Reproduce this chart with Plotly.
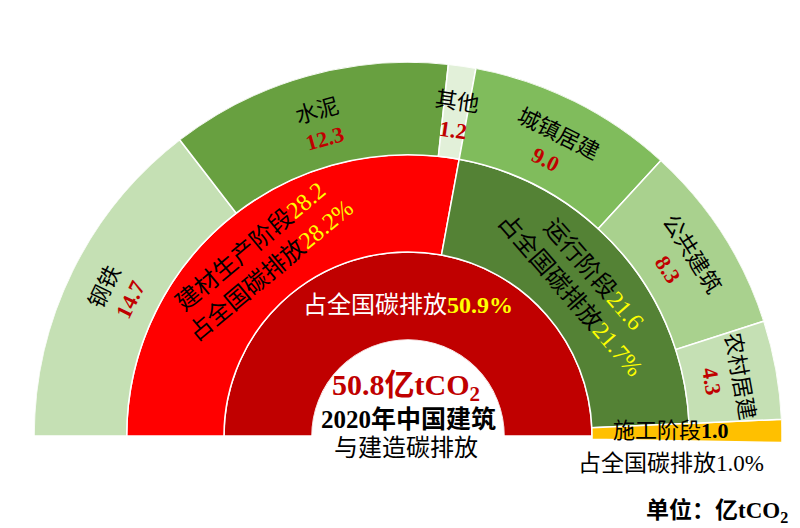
import math
import plotly.graph_objects as go

# ---------------- data ----------------
total_value = 50.8
total_share = "50.9%"
stage_names = ["建材生产阶段", "运行阶段", "施工阶段"]
stage_values = [28.2, 21.6, 1.0]
stage_shares = ["28.2%", "21.7%", "1.0%"]
item_names = ["钢铁", "水泥", "其他", "城镇居建", "公共建筑", "农村居建"]
item_values = [14.7, 12.3, 1.2, 9.0, 8.3, 4.3]

# ---------------- styles ----------------
inner_color = "#C00000"
stage_colors = ["#FF0000", "#548235", "#FFC000"]
item_colors = ["#C5E0B4", "#68A040", "#E2F0D9", "#80BC5C", "#A9D18E", "#C5E0B4"]
VAL_RED = "#C00000"
YELLOW = "#FFFF00"
FONT = "Liberation Serif, Noto Sans CJK SC, serif"

W, H = 800, 528
R, CX, CY = 374.0, 400.0, 428.0
HOLE = 96.0 / R
SECTOR = [-2, 180]
SPAN = 181.0          # angular span of the stage / item rings
INNER_SPAN = 180.0
RMAX = 3.0
k = SPAN / total_value

# polar domain so that the plot centre/radius land where wanted
ymin_bbox = math.sin(math.radians(SECTOR[0]))
dom_x = [(CX - R) / W, (CX + R) / W]
dom_y = [1 - (CY - R * ymin_bbox) / H, 1 - (CY - R) / H]


def cum_mid(values):
    mids, widths, acc = [], [], 0.0
    for v in values:
        widths.append(v * k)
        mids.append((acc + v / 2) * k)
        acc += v
    return mids, widths


def to_paper(theta, rval):
    phi = math.radians(180 - theta)
    rpix = R * HOLE + (R - R * HOLE) * rval / RMAX
    x = CX + rpix * math.cos(phi)
    y = CY - rpix * math.sin(phi)
    return x / W, 1 - y / H


fig = go.Figure()

# inner ring: total
fig.add_trace(go.Barpolar(
    theta=[INNER_SPAN / 2], width=[INNER_SPAN], base=[0], r=[0.95],
    marker=dict(color=[inner_color], line=dict(color="white", width=1.5)),
    hoverinfo="skip"))

# middle ring: stages
s_mid, s_w = cum_mid(stage_values)
s_base = [0.95, 0.95, 0.95]
s_r = [1.05, 1.05, 2.05]
fig.add_trace(go.Barpolar(
    theta=s_mid, width=s_w, base=s_base, r=s_r,
    marker=dict(color=stage_colors, line=dict(color="white", width=1.5)),
    hoverinfo="skip"))

# outer ring: items
i_mid, i_w = cum_mid(item_values)
fig.add_trace(go.Barpolar(
    theta=i_mid, width=i_w, base=[2.0] * len(item_values), r=[1.0] * len(item_values),
    marker=dict(color=item_colors, line=dict(color="white", width=1.5)),
    hoverinfo="skip"))

annotations = []

# outer labels
for name, v, th in zip(item_names, item_values, i_mid):
    x, y = to_paper(th, 2.45)
    annotations.append(dict(
        x=x, y=y, xref="paper", yref="paper", showarrow=False,
        xanchor="center", yanchor="middle", textangle=th - 90,
        text=f"{name}<br><b><span style='color:{VAL_RED}'>{v:.1f}</span></b>",
        font=dict(family=FONT, size=22, color="black")))

# stage labels (first two, along the arc)
for i in range(2):
    th = s_mid[i]
    x, y = to_paper(th, 1.45)
    annotations.append(dict(
        x=x, y=y, xref="paper", yref="paper", showarrow=False,
        xanchor="center", yanchor="middle", textangle=th - 90,
        text=(f"{stage_names[i]}<span style='color:{YELLOW}'>{stage_values[i]:.1f}</span><br>"
              f"占全国碳排放<span style='color:{YELLOW}'>{stage_shares[i]}</span>"),
        font=dict(family=FONT, size=24, color="black")))

# construction stage (horizontal, at the orange strip)
x, y = to_paper(s_mid[2], 1.8)
annotations.append(dict(
    x=x, y=1 - (CY - 6) / H, xref="paper", yref="paper", showarrow=False,
    xanchor="center", yanchor="middle",
    text=f"{stage_names[2]}<b>{stage_values[2]:.1f}</b>",
    font=dict(family=FONT, size=22, color="black")))
annotations.append(dict(
    x=x, y=1 - (CY + 27) / H, xref="paper", yref="paper", showarrow=False,
    xanchor="center", yanchor="middle",
    text=f"占全国碳排放{stage_shares[2]}",
    font=dict(family=FONT, size=23, color="black")))

# inner ring label
annotations.append(dict(
    x=CX / W, y=1 - (CY - 131) / H, xref="paper", yref="paper", showarrow=False,
    xanchor="center", yanchor="middle",
    text=f"占全国碳排放<b><span style='color:{YELLOW}'>{total_share}</span></b>",
    font=dict(family=FONT, size=24, color="white")))

# centre texts
annotations.append(dict(
    x=(CX - 2) / W, y=1 - (CY - 49) / H, xref="paper", yref="paper", showarrow=False,
    xanchor="center", yanchor="middle",
    text=f"<b>{total_value}亿tCO<sub>2</sub></b>",
    font=dict(family=FONT, size=30, color=VAL_RED)))
annotations.append(dict(
    x=CX / W, y=1 - (CY - 17) / H, xref="paper", yref="paper", showarrow=False,
    xanchor="center", yanchor="middle",
    text="<b>2020年中国建筑</b>",
    font=dict(family=FONT, size=25, color="black")))
annotations.append(dict(
    x=(CX - 2) / W, y=1 - (CY + 12) / H, xref="paper", yref="paper", showarrow=False,
    xanchor="center", yanchor="middle",
    text="与建造碳排放",
    font=dict(family=FONT, size=24, color="black")))

# unit
annotations.append(dict(
    x=782 / W, y=1 - 503 / H, xref="paper", yref="paper", showarrow=False,
    xanchor="right", yanchor="middle",
    text="<b>单位：亿tCO<sub>2</sub></b>",
    font=dict(family=FONT, size=23, color="black")))

fig.update_layout(
    width=W, height=H, autosize=False,
    margin=dict(l=0, r=0, t=0, b=0, pad=0),
    paper_bgcolor="white", plot_bgcolor="white",
    showlegend=False,
    polar=dict(
        domain=dict(x=dom_x, y=dom_y),
        sector=SECTOR, hole=HOLE, bgcolor="white",
        radialaxis=dict(range=[0, RMAX], visible=False, showgrid=False,
                        showline=False, showticklabels=False, ticks=""),
        angularaxis=dict(visible=False, direction="clockwise", rotation=180,
                         showgrid=False, showline=False, showticklabels=False, ticks=""),
    ),
    annotations=annotations,
)

fig.write_html("out.html")
